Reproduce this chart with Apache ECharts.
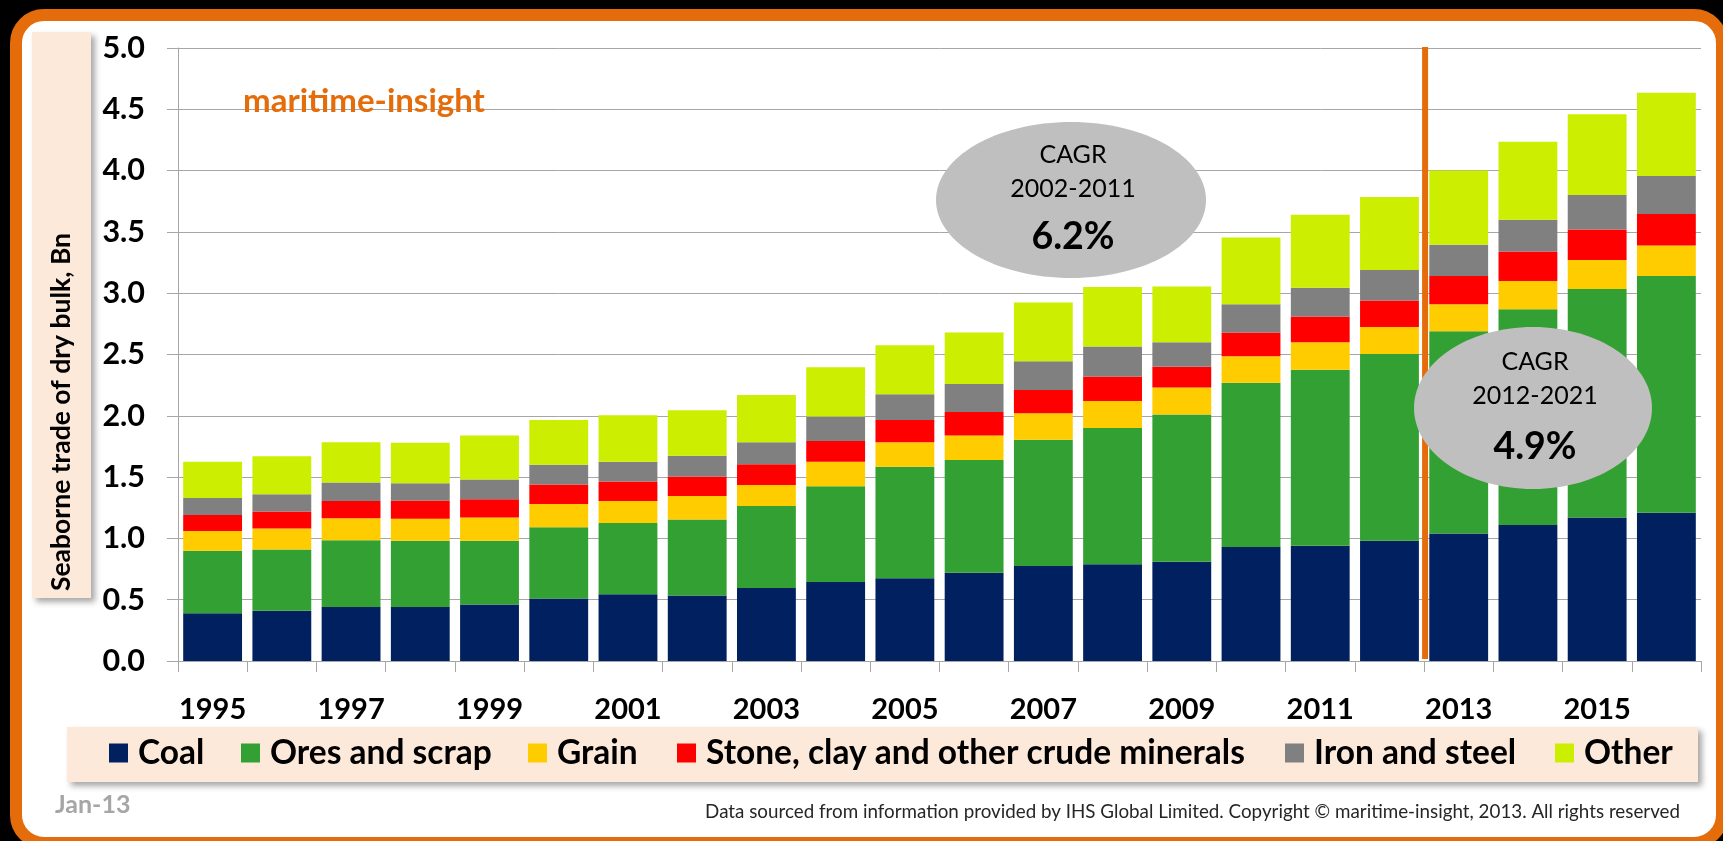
<!DOCTYPE html>
<html>
<head>
<meta charset="utf-8">
<script src="https://cdn.jsdelivr.net/npm/echarts@6/dist/echarts.min.js"></script>
<style>
html,body{margin:0;padding:0;background:#000;width:1723px;height:841px;overflow:hidden;}
#frame{position:absolute;left:10px;top:9px;width:1718px;height:840px;box-sizing:border-box;border:12px solid #E46C0A;border-radius:34px;background:#fff;}
#chart{position:absolute;left:0;top:0;width:1723px;height:841px;}
</style>
</head>
<body>
<div id="frame"></div>
<div id="chart"></div>
<script>
const years = ['1995','1996','1997','1998','1999','2000','2001','2002','2003','2004','2005','2006','2007','2008','2009','2010','2011','2012','2013','2014','2015','2016'];
const coal  = [0.39,0.41,0.44,0.44,0.46,0.51,0.545,0.535,0.595,0.645,0.675,0.72,0.775,0.79,0.81,0.93,0.94,0.98,1.04,1.11,1.17,1.21];
const ores  = [0.51,0.50,0.545,0.54,0.52,0.58,0.58,0.62,0.67,0.78,0.91,0.92,1.03,1.11,1.20,1.34,1.435,1.525,1.65,1.76,1.865,1.93];
const grain = [0.16,0.17,0.18,0.18,0.19,0.19,0.18,0.19,0.17,0.20,0.20,0.20,0.215,0.22,0.22,0.215,0.225,0.22,0.22,0.23,0.235,0.25];
const stone = [0.13,0.14,0.14,0.15,0.15,0.16,0.16,0.16,0.17,0.17,0.18,0.19,0.19,0.20,0.17,0.195,0.21,0.215,0.23,0.24,0.25,0.255];
const iron  = [0.14,0.14,0.15,0.14,0.16,0.16,0.16,0.17,0.18,0.20,0.21,0.23,0.235,0.245,0.20,0.23,0.235,0.25,0.255,0.26,0.28,0.31];
const other = [0.295,0.31,0.33,0.33,0.36,0.365,0.38,0.37,0.385,0.40,0.40,0.42,0.48,0.485,0.455,0.545,0.595,0.595,0.605,0.635,0.66,0.68];
const seriesNames = ['Coal','Ores and scrap','Grain','Stone, clay and other crude minerals','Iron and steel','Other'];
const seriesData = [coal, ores, grain, stone, iron, other];
const colors = ['#002060','#33A033','#FFCC00','#FF0000','#808080','#CCEE00'];
const yTicks = ['0.0','0.5','1.0','1.5','2.0','2.5','3.0','3.5','4.0','4.5','5.0'];
const legendLefts = [109, 241, 528, 677, 1285, 1555];

const FONT = 'Lato';
const chart = echarts.init(document.getElementById('chart'), null, {renderer:'canvas'});

const option = {
  backgroundColor: 'transparent',
  animation: false,
  color: colors,
  grid: {left:178, right:22, top:48, bottom:180, containLabel:false},
  legend: seriesNames.map((n,i) => ({
    left: legendLefts[i], top: 736, itemWidth: 19, itemHeight: 19, icon: 'rect', z: 20, padding: 0,
    textStyle: {fontFamily: FONT, fontWeight: 'bold', fontSize: 33.5, color: '#000', padding:[0,0,0,5]},
    data: [n]
  })),
  xAxis: {
    type: 'category', data: years,
    axisLine: {show:true, lineStyle:{color:'#A6A6A6', width:1}},
    axisTick: {show:true, length:11, interval:0, lineStyle:{color:'#A6A6A6'}},
    axisLabel: {interval:1, margin:34, fontFamily: FONT, fontWeight:'bold', fontSize:29, color:'#000'}
  },
  yAxis: {
    type: 'value', min:0, max:5, interval:0.5,
    axisLine: {show:true, lineStyle:{color:'#A6A6A6', width:1}},
    axisTick: {show:true, length:11, lineStyle:{color:'#A6A6A6'}},
    splitLine: {show:true, lineStyle:{color:'#A6A6A6', width:1}},
    axisLabel: {margin:33, fontFamily: FONT, fontWeight:'bold', fontSize:30.5, color:'#000',
      formatter: v => yTicks[Math.round(v/0.5)]}
  },
  series: seriesNames.map((n,i) => ({
    name: n, type:'bar', stack:'total', data: seriesData[i], barCategoryGap:'15%',
    itemStyle:{color: colors[i]}
  }))
};
chart.setOption(option);

const x2012 = chart.convertToPixel({xAxisIndex:0}, '2012');
const x2013 = chart.convertToPixel({xAxisIndex:0}, '2013');
const lineX = (x2012 + x2013)/2 + 1;
const yTop = chart.convertToPixel({yAxisIndex:0}, 5) - 1;
const yBot = chart.convertToPixel({yAxisIndex:0}, 0) - 2;

chart.setOption({
  graphic: [
    {type:'rect', z:1, shape:{x:32,y:32,width:59,height:566},
      style:{fill:'#FDE9D9', shadowBlur:6, shadowOffsetX:4, shadowOffsetY:4, shadowColor:'rgba(0,0,0,0.35)'}},
    {type:'group', z:2, x:61, y:412, rotation:Math.PI/2, children:[
      {type:'text', z:2, style:{text:'Seaborne trade of dry bulk, Bn', x:0, y:0, fontFamily:FONT, fontWeight:'bold', fontSize:26.5, fill:'#000', align:'center', verticalAlign:'middle'}}
    ]},
    {type:'rect', z:1, shape:{x:67,y:727,width:1631,height:55},
      style:{fill:'#FDE9D9', shadowBlur:6, shadowOffsetX:4, shadowOffsetY:4, shadowColor:'rgba(0,0,0,0.35)'}},
    {type:'text', z:50, x:243, y:101,
      style:{text:'maritime-insight', fontFamily:FONT, fontWeight:'bold', fontSize:33, fill:'#E46C0A', align:'left', verticalAlign:'middle'}},
    {type:'line', z:50, shape:{x1:lineX, y1:yTop, x2:lineX, y2:yBot},
      style:{stroke:'#E46C0A', lineWidth:6}},
    {type:'ellipse', z:60, shape:{cx:1071, cy:200, rx:135, ry:78}, style:{fill:'#BFBFBF'}},
    {type:'text', z:61, x:1073, y:155, style:{text:'CAGR', fontFamily:FONT, fontSize:25, fill:'#000', align:'center', verticalAlign:'middle'}},
    {type:'text', z:61, x:1073, y:189, style:{text:'2002-2011', fontFamily:FONT, fontSize:25, fill:'#000', align:'center', verticalAlign:'middle'}},
    {type:'text', z:61, x:1073, y:237, style:{text:'6.2%', fontFamily:FONT, fontWeight:'bold', fontSize:37.5, fill:'#000', align:'center', verticalAlign:'middle'}},
    {type:'ellipse', z:60, shape:{cx:1533, cy:408, rx:119, ry:81}, style:{fill:'#BFBFBF'}},
    {type:'text', z:61, x:1535, y:362, style:{text:'CAGR', fontFamily:FONT, fontSize:25, fill:'#000', align:'center', verticalAlign:'middle'}},
    {type:'text', z:61, x:1535, y:396, style:{text:'2012-2021', fontFamily:FONT, fontSize:25, fill:'#000', align:'center', verticalAlign:'middle'}},
    {type:'text', z:61, x:1535, y:447, style:{text:'4.9%', fontFamily:FONT, fontWeight:'bold', fontSize:37.5, fill:'#000', align:'center', verticalAlign:'middle'}},
    {type:'text', z:50, x:55, y:805, style:{text:'Jan-13', fontFamily:FONT, fontWeight:'bold', fontSize:25, fill:'#A6A6A6', align:'left', verticalAlign:'middle'}},
    {type:'text', z:50, x:1680, y:812, style:{text:'Data sourced from information provided by IHS Global Limited. Copyright \u00A9 maritime-insight, 2013. All rights reserved', fontFamily:FONT, fontSize:18.8, fill:'#262626', align:'right', verticalAlign:'middle'}}
  ]
});
</script>
</body>
</html>
